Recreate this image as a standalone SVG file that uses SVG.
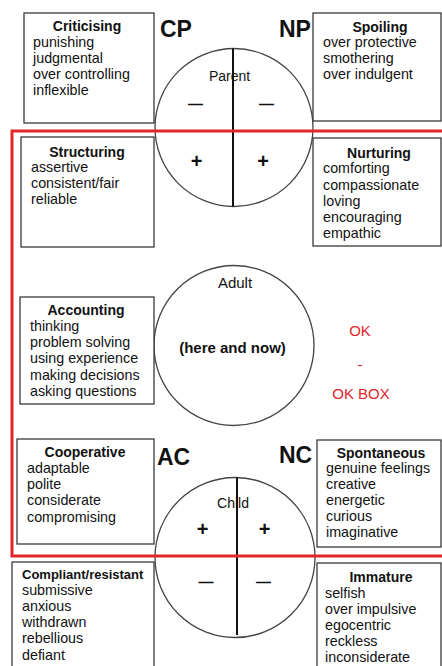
<svg xmlns="http://www.w3.org/2000/svg" width="442" height="666" viewBox="0 0 442 666">
<style>
.box{fill:#fff;stroke:#3a3a3a;stroke-width:1.3}
.circ{fill:#fff;stroke:#444;stroke-width:1.3}
.axis{stroke:#111;stroke-width:2}
.red{fill:none;stroke:#e3262a;stroke-width:3}
text{font-family:"Liberation Sans",Arial,sans-serif;fill:#111}
.t{font-size:14px;font-weight:bold;text-anchor:middle}
.b{font-size:14.3px}
.big{font-size:23px;font-weight:bold}
.lbl{font-size:14px;text-anchor:middle}
.sign{font-weight:bold;text-anchor:middle}
.dash{font-size:15px;font-weight:bold;text-anchor:middle}
.ok{font-size:15px;fill:#e3262a;text-anchor:middle}
</style>
<rect width="442" height="666" fill="#fff"/>

<g id="parent">
<circle class="circ" cx="234" cy="127.5" r="79"/>
<line class="axis" x1="233" y1="48.5" x2="233" y2="206.5"/>
<text class="lbl" x="229.5" y="81">Parent</text>
<text class="dash" x="195.5" y="109">—</text>
<text class="dash" x="266.5" y="109">—</text>
<text class="sign" x="196.5" y="167.5" font-size="20">+</text>
<text class="sign" x="263" y="167.5" font-size="20">+</text>
<text class="big" x="160" y="37">CP</text>
<text class="big" x="279" y="37">NP</text>
</g>

<g id="adult">
<circle class="circ" cx="234" cy="345.5" r="80"/>
<text class="lbl" x="235" y="288" style="font-size:15px">Adult</text>
<text class="t" x="232.5" y="353" style="font-size:15px">(here and now)</text>
</g>

<g id="child">
<circle class="circ" cx="235" cy="557.5" r="80"/>
<line class="axis" x1="237" y1="477.5" x2="237" y2="635"/>
<text class="lbl" x="233" y="508">Child</text>
<text class="sign" x="202.5" y="536" font-size="20">+</text>
<text class="sign" x="264.5" y="536" font-size="20">+</text>
<text class="dash" x="206" y="587">—</text>
<text class="dash" x="263.5" y="587">—</text>
<text class="big" x="157" y="465">AC</text>
<text class="big" x="279" y="463">NC</text>
</g>

<g id="criticising">
<rect class="box" x="24" y="13" width="130" height="110"/>
<text class="t" x="87" y="31">Criticising</text>
<text class="b" x="33" y="47">punishing</text>
<text class="b" x="33" y="63">judgmental</text>
<text class="b" x="33" y="79">over controlling</text>
<text class="b" x="33" y="95">inflexible</text>
</g>

<g id="spoiling">
<rect class="box" x="313" y="13" width="128" height="108"/>
<text class="t" x="380" y="32">Spoiling</text>
<text class="b" x="323" y="47">over protective</text>
<text class="b" x="323" y="63">smothering</text>
<text class="b" x="323" y="79">over indulgent</text>
</g>

<g id="structuring">
<rect class="box" x="21" y="137" width="133" height="110"/>
<text class="t" x="87" y="157">Structuring</text>
<text class="b" x="31" y="172">assertive</text>
<text class="b" x="31" y="188">consistent/fair</text>
<text class="b" x="31" y="204">reliable</text>
</g>

<g id="nurturing">
<rect class="box" x="313" y="138" width="128" height="108"/>
<text class="t" x="379" y="158">Nurturing</text>
<text class="b" x="323" y="173">comforting</text>
<text class="b" x="323" y="190">compassionate</text>
<text class="b" x="323" y="206">loving</text>
<text class="b" x="323" y="222">encouraging</text>
<text class="b" x="323" y="238">empathic</text>
</g>

<g id="accounting">
<rect class="box" x="20" y="297" width="134" height="107"/>
<text class="t" x="86" y="315">Accounting</text>
<text class="b" x="30" y="331">thinking</text>
<text class="b" x="30" y="347">problem solving</text>
<text class="b" x="30" y="363">using experience</text>
<text class="b" x="30" y="380">making decisions</text>
<text class="b" x="30" y="396">asking questions</text>
</g>

<g id="okbox">
<text class="ok" x="360" y="336">OK</text>
<text class="ok" x="360" y="370">-</text>
<text class="ok" x="361" y="399">OK BOX</text>
</g>

<g id="cooperative">
<rect class="box" x="17" y="439" width="137" height="105"/>
<text class="t" x="85" y="457">Cooperative</text>
<text class="b" x="27" y="473">adaptable</text>
<text class="b" x="27" y="489">polite</text>
<text class="b" x="27" y="505">considerate</text>
<text class="b" x="27" y="522">compromising</text>
</g>

<g id="spontaneous">
<rect class="box" x="317" y="440" width="124" height="107"/>
<text class="t" x="381" y="458">Spontaneous</text>
<text class="b" x="326" y="473">genuine feelings</text>
<text class="b" x="326" y="489">creative</text>
<text class="b" x="326" y="505">energetic</text>
<text class="b" x="326" y="521">curious</text>
<text class="b" x="326" y="537">imaginative</text>
</g>

<g id="compliant">
<rect class="box" x="12" y="562" width="142" height="110"/>
<text class="t" x="22" y="579" style="text-anchor:start;font-size:13px">Compliant/resistant</text>
<text class="b" x="22" y="595">submissive</text>
<text class="b" x="22" y="611">anxious</text>
<text class="b" x="22" y="627">withdrawn</text>
<text class="b" x="22" y="643">rebellious</text>
<text class="b" x="22" y="660">defiant</text>
</g>

<g id="immature">
<rect class="box" x="317" y="563" width="124" height="110"/>
<text class="t" x="381" y="582">Immature</text>
<text class="b" x="325" y="598">selfish</text>
<text class="b" x="325" y="614">over impulsive</text>
<text class="b" x="325" y="630">egocentric</text>
<text class="b" x="325" y="646">reckless</text>
<text class="b" x="325" y="662">inconsiderate</text>
</g>

<g id="connectors">
<polyline class="red" points="444,131 12,131 12,556 444,556"/>
</g>
</svg>
